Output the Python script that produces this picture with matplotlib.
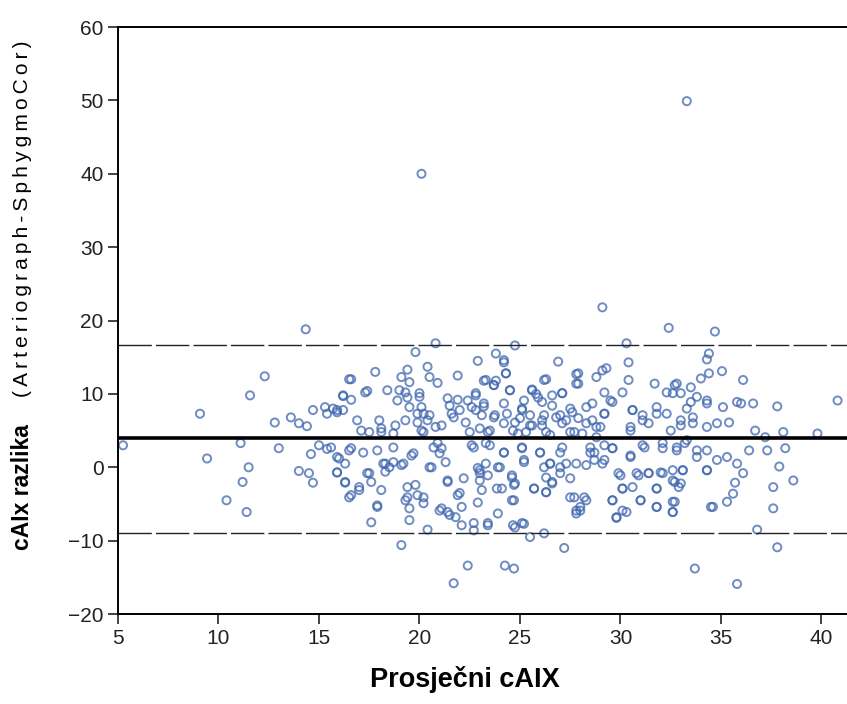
import matplotlib
matplotlib.use('Agg')
import matplotlib.pyplot as plt

# mean cAIx (x) and difference Arteriograph - SphygmoCor (y)
mean_caix = [
    14.34, 12.3, 11.57, 9.08, 5.25, 9.43, 11.1, 13.0, 11.5, 11.2, 10.4, 11.4, 12.8, 13.6, 14.0,
    14.4, 14.7, 15.3, 15.4, 15.9, 16.2, 16.2, 16.5, 15.0, 14.6, 15.4, 16.0, 14.0, 14.5, 14.7,
    15.9, 16.3, 16.5,
    20.8, 19.8, 24.75, 23.8, 24.2, 22.9, 26.9, 20.4, 19.4, 17.8, 21.9, 16.6, 24.3, 26.3, 27.8,
    19.1, 19.5, 20.5, 20.9, 23.2, 23.7, 23.8, 18.4, 17.4, 24.5, 25.6, 25.8, 27.1, 27.8, 16.2,
    16.6, 18.9, 19.3, 20.0, 21.4, 21.9, 22.4, 22.8, 23.2, 24.2, 25.2, 26.1, 26.6, 27.5, 15.7,
    15.9, 19.5, 20.1, 20.2, 20.5, 21.6, 22.0, 22.6, 23.1, 25.1, 25.5, 26.2, 27.0, 27.9, 16.9,
    18.0, 18.8, 19.9, 21.1, 21.7, 22.3, 23.7, 24.2, 24.75, 25.6, 26.1, 27.1, 17.1, 17.5, 18.1,
    18.7, 20.2, 22.5, 23.4, 24.9, 25.3, 26.5, 27.7,
    15.6, 16.5, 17.2, 17.9, 19.7, 20.9, 21.1, 22.6, 23.3, 24.2, 25.1, 26.0, 27.1, 15.9, 16.3,
    15.9, 16.3, 16.6, 17.0, 17.4, 17.6, 18.1, 18.3, 18.7, 19.1, 19.6, 17.9, 17.6, 19.4, 19.8,
    19.4, 19.5, 19.5, 20.2, 20.5, 21.3, 21.1, 21.4, 21.8, 21.4, 21.9, 22.2, 22.1, 22.9, 23.0,
    23.4, 23.1, 22.9, 23.9, 24.1, 24.6, 24.7, 24.7, 23.9, 23.4, 22.7, 22.1, 20.4, 24.75, 25.2,
    25.5, 26.2, 19.1, 22.4, 24.25, 24.7, 21.7, 27.2, 25.7, 26.3, 26.5, 27.0, 27.5, 27.7, 27.8,
    26.6, 25.2, 18.3,
    29.1, 32.4, 34.7, 30.3, 30.4, 34.4, 34.3, 35.05, 29.3, 28.8, 30.4, 31.7, 34.0, 36.1, 32.7,
    40.8, 37.8, 36.6, 35.8, 35.1, 34.3, 33.5, 33.0, 32.3, 29.6, 29.2, 28.3, 30.6, 31.1, 31.8,
    32.3, 33.6, 34.8, 35.4, 36.0, 30.5, 31.4, 33.0, 29.0, 28.3, 36.7, 38.1, 39.8, 37.2, 28.5,
    29.1, 29.6, 30.5, 31.2, 32.1, 32.8, 33.2, 33.8, 34.3, 34.8, 35.3, 35.8, 36.4, 37.3, 38.2,
    37.9, 38.6, 37.6, 37.6, 36.1, 35.7, 35.6, 35.3, 34.6, 34.3, 33.1, 32.7, 32.9, 32.1, 31.8,
    31.4, 30.9, 30.0, 30.1, 30.6, 31.0, 31.8, 32.7, 32.6, 30.3, 29.8, 29.6, 28.3, 28.0, 36.8,
    37.8, 33.7, 35.8, 28.8, 29.2, 28.3,
    34.4, 33.5, 32.8, 32.6, 33.8, 34.3, 33.3, 33.0, 33.6, 32.5, 34.3, 33.3, 32.8, 33.8, 31.8,
    30.6, 31.1, 30.5, 32.1, 31.1, 29.1, 29.2, 29.5, 30.1, 28.6, 29.2, 28.8, 28.7, 29.2, 29.6,
    30.5, 29.9, 30.8, 31.4, 32.0, 32.6, 32.6, 33.1, 30.1, 31.8, 33.0, 34.3, 34.5, 29.6, 31.0,
    31.8, 32.6, 32.6, 30.1, 29.8,
    24.2, 23.3, 23.7, 24.3, 24.5, 25.6, 25.9, 26.2, 26.6, 27.1, 27.9, 27.9, 22.8, 23.2, 22.8,
    23.75, 24.35, 25.1, 25.0, 25.5, 26.1, 26.8, 27.3, 27.6, 28.6, 23.0, 23.5, 24.65, 26.3, 27.5,
    28.1, 22.7, 23.5, 24.2, 25.1, 25.2, 26.0, 26.5, 27.0, 27.3, 27.8, 28.5, 28.7, 23.0, 23.3,
    24.0, 23.0, 23.85, 24.6, 24.75, 25.7, 26.2, 26.3, 26.6, 26.3, 27.0, 24.6, 27.5, 28.0, 28.2,
    27.8, 22.7, 23.4, 24.65, 25.1,
    17.3, 19.0, 20.0, 19.4, 21.5, 18.1, 19.3, 19.9, 20.4, 20.8, 20.1, 16.6, 18.7, 20.7, 21.0,
    18.2, 18.5, 19.2, 20.6, 17.5, 17.0, 21.4, 22.0, 19.3, 19.9, 20.2, 21.0, 21.5, 17.9,
    20.1, 33.3,
]
difference = [
    18.8, 12.4, 9.8, 7.3, 3.0, 1.2, 3.3, 2.6, 0.0, -2.0, -4.5, -6.1, 6.1, 6.8, 6.0,
    5.6, 7.8, 8.2, 7.3, 7.5, 7.8, 9.7, 12.0, 3.0, 1.8, 2.5, 1.2, -0.5, -0.8, -2.1,
    -0.7, -2.1, -4.1,
    16.9, 15.7, 16.6, 15.5, 14.6, 14.5, 14.4, 13.7, 13.3, 13.0, 12.5, 12.0, 12.8, 12.0, 12.7,
    12.3, 11.6, 12.3, 11.5, 11.8, 11.2, 11.8, 10.5, 10.4, 10.5, 10.6, 10.0, 10.1, 11.4, 9.8,
    9.2, 9.1, 10.2, 9.6, 9.4, 9.2, 9.1, 9.8, 8.3, 8.7, 9.1, 8.9, 8.4, 8.0, 8.0,
    7.8, 8.2, 8.2, 7.3, 7.1, 7.3, 7.8, 8.2, 7.1, 7.8, 7.1, 7.1, 7.1, 6.7, 6.4,
    6.4, 5.7, 6.1, 5.7, 6.8, 6.1, 6.8, 6.0, 6.1, 5.7, 5.7, 6.0, 5.0, 4.8, 4.8,
    4.6, 4.8, 4.8, 4.8, 4.6, 4.8, 4.4, 4.8,
    2.7, 2.3, 2.0, 2.3, 1.9, 3.3, 2.6, 3.0, 3.3, 2.0, 2.6, 2.0, 2.7, 1.4, 0.5,
    -0.7, -2.0, -3.8, -3.1, -0.8, -2.0, -3.1, 0.5, 0.7, 0.3, 1.6, -5.2, -7.5, -2.7, -2.4,
    -4.1, -5.6, -7.2, -4.1, 0.0, 0.7, -5.6, -6.1, -6.8, -2.0, -3.8, -1.5, -5.4, -0.1, -0.8,
    -1.1, -3.1, -4.8, 0.0, -2.9, -1.4, -2.4, -4.5, -6.3, -7.9, -8.6, -7.9, -8.5, -8.2, -7.7,
    -9.5, -9.0, -10.6, -13.4, -13.4, -13.8, -15.8, -11.0, -2.9, -3.4, 0.5, 0.0, -1.5, -4.1, -5.9,
    -2.0, 1.0, -0.6,
    21.8, 19.0, 18.5, 16.9, 14.3, 15.5, 14.7, 13.1, 13.5, 12.3, 11.9, 11.4, 12.1, 11.9, 11.2,
    9.1, 8.3, 8.7, 8.9, 8.2, 8.7, 8.9, 10.1, 10.2, 8.9, 7.3, 8.2, 7.8, 7.1, 8.2,
    7.3, 6.8, 6.0, 6.1, 8.7, 5.5, 6.0, 5.7, 5.5, 6.0, 5.0, 4.8, 4.6, 4.1, 2.7,
    0.5, 2.6, 1.4, 2.7, 2.6, 2.3, 3.3, 1.4, 2.3, 1.0, 1.4, 0.5, 2.3, 2.3, 2.6,
    0.1, -1.8, -2.7, -5.6, -0.8, -2.1, -3.6, -4.7, -5.4, -0.4, -0.4, -2.0, -2.7, -0.8, -2.9,
    -0.8, -1.1, -1.1, -2.9, -2.7, -4.5, -5.4, -4.7, -6.1, -6.1, -6.9, -4.5, -4.5, -5.9, -8.5,
    -10.9, -13.8, -15.9, 4.1, 3.0, 0.3,
    12.8, 10.9, 11.4, 10.1, 9.6, 9.1, 8.0, 6.4, 6.0, 5.0, 5.5, 3.7, 2.7, 2.3, 7.3,
    7.8, 6.4, 5.0, 3.3, 3.0, 13.2, 10.2, 9.1, 10.2, 8.7, 7.3, 5.5, 2.0, 1.0, 2.6,
    1.6, -0.8, -0.8, -0.8, -0.7, -1.8, -0.4, -0.4, -2.9, -2.9, -2.2, -0.4, -5.4, -4.5, -4.5,
    -5.4, -4.7, -6.1, -5.9, -6.8,
    14.3, 11.9, 11.2, 12.8, 10.5, 10.5, 9.5, 11.9, 9.8, 10.1, 12.8, 11.4, 10.1, 8.7, 7.8,
    7.1, 7.3, 8.0, 6.7, 5.7, 6.4, 6.8, 6.4, 7.5, 6.4, 5.3, 5.0, 5.0, 4.8, 4.8,
    4.6, 2.7, 3.0, 2.0, 2.7, 0.7, 2.0, 0.5, 2.0, 0.5, 0.5, 2.0, 1.0, -0.4, 0.5,
    0.0, -1.8, -2.9, -1.1, -2.2, -2.9, 0.0, -1.4, -2.2, -3.4, -0.8, -4.5, -4.1, -5.4, -4.1,
    -6.3, -7.6, -7.6, -7.9, -7.6,
    10.2, 10.5, 10.1, 9.5, 8.4, 5.3, 6.4, 7.3, 6.4, 5.5, 5.0, 2.6, 2.7, 2.7, 1.9,
    0.5, 0.0, 0.5, 0.0, -0.8, -2.7, -1.8, -3.5, -4.5, -3.8, -4.9, -5.9, -6.5, -5.4,
    40.0, 49.9,
]
mean_diff = 4.0
limits = [16.7, -8.9]

x_ticks = [5, 10, 15, 20, 25, 30, 35, 40]
y_ticks = [-20, -10, 0, 10, 20, 30, 40, 50, 60]

narrow = ['Liberation Sans Narrow', 'Liberation Sans', 'DejaVu Sans']
plt.rcParams['font.family'] = narrow

fig = plt.figure(figsize=(8.47, 7.04), dpi=100)
ax = fig.add_axes([0.1393, 0.1278, 0.8607, 0.8338])

ax.scatter(mean_caix, difference, s=34, facecolors='none', edgecolors='#3f66b0',
           linewidths=1.4, alpha=0.75, zorder=2)

ax.axhline(mean_diff, color='black', lw=2.6, zorder=3)
for lim in limits:
    ax.axhline(lim, color='#222222', lw=1.0, dashes=(24, 3), zorder=3)

ax.set_xlim(5, 41.27)
ax.set_ylim(-20, 60)
ax.set_xticks(x_ticks)
ax.set_yticks(y_ticks)
ax.set_xticklabels([str(v) for v in x_ticks])
ax.set_yticklabels([str(v).replace('-', '\u2212') for v in y_ticks])
ax.tick_params(direction='out', length=7, width=1.2, labelsize=15, colors='#222222')
ax.spines['right'].set_visible(False)
for side in ['left', 'bottom', 'top']:
    ax.spines[side].set_linewidth(1.4)

ax.set_xlabel('Prosječni cAIX', fontsize=19.5, fontweight='bold',
              family=['Liberation Sans', 'DejaVu Sans'])
ax.xaxis.set_label_coords(0.476, -0.088)

# y label: condensed bold part, then letter-spaced normal part
fig.text(0.027, 1 - 550 / 704, 'cAIx razlika', rotation=90, fontsize=16.5,
         fontweight='bold', ha='center', va='bottom')
fig.text(0.027, 1 - 397 / 704, '\u2009'.join('(Arteriograph-SphygmoCor)'), rotation=90,
         fontsize=15, ha='center', va='bottom', family=['Liberation Sans', 'DejaVu Sans'])

fig.savefig('out.png', dpi=100)
